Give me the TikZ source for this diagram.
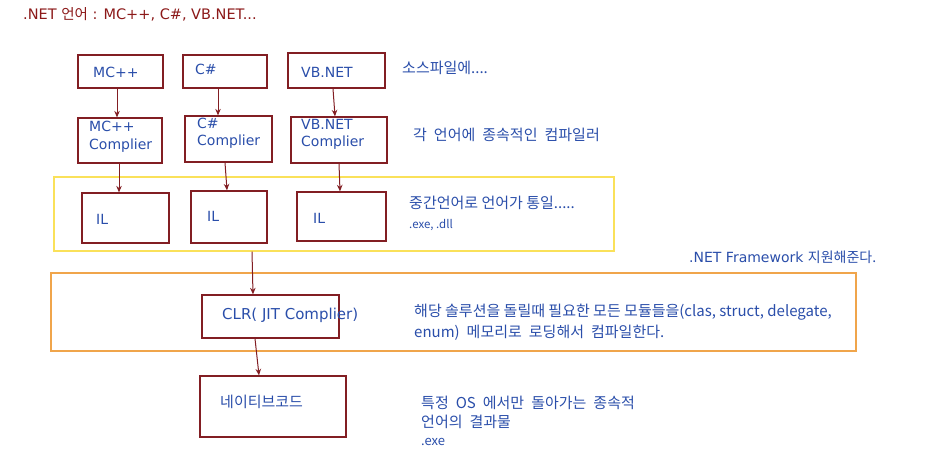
\documentclass[tikz,border=0pt]{standalone}
\usepackage{fontspec}
\setmainfont{DejaVu Sans}
\newfontfamily\kr{Noto Sans CJK KR}
\newcommand\kws{\hspace{7pt}}
\usetikzlibrary{arrows.meta}
\definecolor{boxred}{RGB}{130,30,35}
\definecolor{txtblue}{RGB}{42,78,170}
\definecolor{titred}{RGB}{140,25,25}
\definecolor{ylw}{RGB}{250,225,90}
\definecolor{org}{RGB}{240,165,75}
\begin{document}
\begin{tikzpicture}[x=1pt,y=-1pt,
  box/.style={draw=boxred, line width=1.3pt, inner sep=0pt, fill=none},
  frame/.style={line width=1.3pt, inner sep=0pt},
  lbl/.style={anchor=west, inner sep=0pt, text=txtblue, font=\fontsize{14}{17}\selectfont, align=left},
  note/.style={anchor=west, inner sep=0pt, text=txtblue, font=\kr\fontsize{15}{17}\selectfont},
  arr/.style={draw=boxred, line width=1pt, -{Stealth[length=6.5pt,width=5.5pt]}}]
\fill[white] (0,0) rectangle (935,461);
\useasboundingbox (0,0) rectangle (935,461);

% title
\node[anchor=west, inner sep=0pt, text=titred, font=\fontsize{14.5}{17}\selectfont] (title) at (23,14) {.NET {\kr 언어} : MC++, C\#, VB.NET...};

% frames
\node[frame, draw=ylw, minimum width=560pt, minimum height=74pt] (yel) at (334,214) {};
\node[frame, draw=org, minimum width=805pt, minimum height=78pt] (orn) at (453.5,312) {};

% source boxes
\node[box, minimum width=85pt, minimum height=33pt] (mcpp) at (120.5,71.5) {};
\node[box, minimum width=84pt, minimum height=33pt] (cs) at (225,71.5) {};
\node[box, minimum width=97pt, minimum height=35pt] (vb) at (336.5,70.5) {};
% compiler boxes
\node[box, minimum width=84pt, minimum height=45pt] (mcppc) at (120,140.5) {};
\node[box, minimum width=87pt, minimum height=46pt] (csc) at (228.5,139) {};
\node[box, minimum width=96pt, minimum height=46pt] (vbc) at (339,140) {};
% IL boxes
\node[box, minimum width=87pt, minimum height=50pt] (il1) at (125.5,218) {};
\node[box, minimum width=76pt, minimum height=52pt] (il2) at (229,217) {};
\node[box, minimum width=89pt, minimum height=49pt] (il3) at (341.5,216.5) {};
% CLR and native
\node[box, minimum width=137pt, minimum height=43pt] (clr) at (270.5,316.5) {};
\node[box, minimum width=146pt, minimum height=61pt] (nat) at (273,406.5) {};

% box texts
\node[lbl] (t1) at (93,72) {MC++};
\node[lbl] (t2) at (195,69) {C\#};
\node[lbl] (t3) at (301,72) {VB.NET};
\node[lbl, font=\fontsize{14}{18}\selectfont] (t4) at (89,137) {MC++\\Complier};
\node[lbl, font=\fontsize{14}{17}\selectfont] (t5) at (197,133.5) {C\#\\Complier};
\node[lbl, font=\fontsize{14}{17}\selectfont] (t6) at (301,134.5) {VB.NET\\Complier};
\node[lbl] (t7) at (96,219) {IL};
\node[lbl] (t8) at (207,216) {IL};
\node[lbl] (t9) at (313,218) {IL};
\node[lbl, font=\fontsize{15}{17}\selectfont] (t10) at (222,315) {CLR( JIT Complier)};
\node[lbl, font=\kr\fontsize{15}{17}\selectfont] (t11) at (220,402) {네이티브코드};

% notes
\node[note] (n1) at (402,68) {소스파일에....};
\node[note] (n2) at (413,135) {각\kws 언어에\kws 종속적인\kws 컴파일러};
\node[note] (n3) at (409,203) {중간언어로 언어가 통일.....};
\node[note, font=\kr\fontsize{11.5}{13}\selectfont] (n4) at (409,225) {.exe, .dll};
\node[anchor=west, inner sep=0pt, text=txtblue, font=\fontsize{14}{16}\selectfont] (n5) at (689,257) {.NET Framework {\kr 지원해준다.}};
\node[note] (n6) at (414,312) {해당 솔루션을 돌릴때 필요한 모든 모듈들을(clas, struct, delegate,};
\node[note] (n7) at (414,333) {enum)\kws 메모리로\kws 로딩해서\kws 컴파일한다.};
\node[note] (n8) at (421,403) {특정\kws OS\kws 에서만\kws 돌아가는\kws 종속적};
\node[note] (n9) at (421,422) {언어의\kws 결과물};
\node[note, font=\kr\fontsize{13}{14}\selectfont] (n10) at (421,442) {.exe};

% arrows
\draw[arr] ([xshift=-3.5pt]mcpp.south) -- ([xshift=-3pt]mcppc.north);
\draw[arr] ([xshift=-7pt]cs.south) -- ([xshift=-10.5pt]csc.north);
\draw[arr] ([xshift=-3.5pt]vb.south) -- ([xshift=-4pt]vbc.north);
\draw[arr] ([xshift=-1pt]mcppc.south) -- ([xshift=-6.5pt]il1.north);
\draw[arr] ([xshift=-3.5pt]csc.south) -- ([xshift=-2pt]il2.north);
\draw[arr] (vbc.south) -- ([xshift=-1.5pt]il3.north);
\draw[arr] ([xshift=-82pt]yel.south) -- ([xshift=-17.5pt]clr.north);
\draw[arr] ([xshift=-15.5pt]clr.south) -- ([xshift=-14pt]nat.north);
\end{tikzpicture}
\end{document}
